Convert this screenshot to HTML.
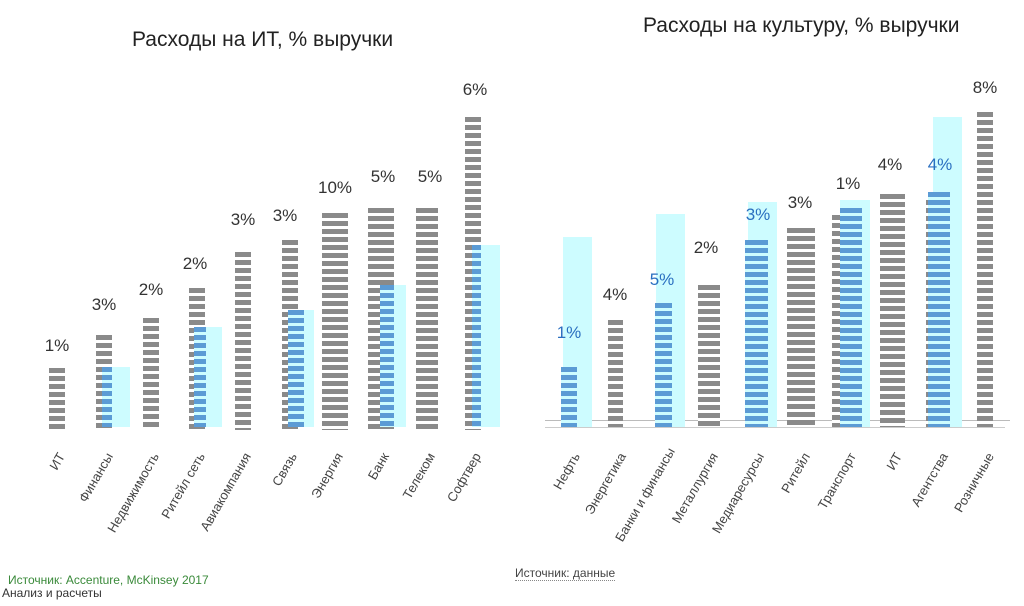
<!DOCTYPE html>
<html><head><meta charset="utf-8"><style>
body{margin:0;width:1024px;height:606px;background:#fff;position:relative;overflow:hidden;font-family:"Liberation Sans",sans-serif;}
div{position:absolute;}
.g{background:repeating-linear-gradient(to bottom,#8a8a8a 0 5px,#fff 5px 8px);}
.b{background:repeating-linear-gradient(to bottom,#5b9bd5 0 5px,#cdfcff 5px 8px);}
.c{background:#cdfcff;}
.l{font-size:17px;color:#333;width:60px;text-align:center;}
.lb{color:#2a6fc0;}
.x{font-size:13px;color:#444;transform:rotate(-60deg);transform-origin:right top;white-space:nowrap;text-align:right;width:100px;}
.t{font-size:21px;color:#222;white-space:nowrap;}
</style></head><body>
<div class="t" style="left:132px;top:28px">Расходы на ИТ, % выручки</div>
<div class="t" style="left:643px;top:14px">Расходы на культуру, % выручки</div>

<!-- left chart -->
<div class="g" style="left:49px;top:368px;width:16px;height:62px"></div>
<div class="g" style="left:96px;top:335px;width:16px;height:95px"></div>
<div class="c" style="left:104px;top:367px;width:26px;height:60px"></div>
<div class="b" style="left:102px;top:367px;width:10px;height:60px"></div>
<div class="g" style="left:143px;top:318px;width:16px;height:112px"></div>
<div class="g" style="left:189px;top:288px;width:16px;height:142px"></div>
<div class="c" style="left:196px;top:327px;width:26px;height:100px"></div>
<div class="b" style="left:194px;top:327px;width:12px;height:100px"></div>
<div class="g" style="left:235px;top:252px;width:16px;height:178px"></div>
<div class="g" style="left:282px;top:240px;width:16px;height:190px"></div>
<div class="c" style="left:288px;top:310px;width:26px;height:117px"></div>
<div class="b" style="left:288px;top:310px;width:16px;height:117px"></div>
<div class="g" style="left:322px;top:213px;width:26px;height:217px"></div>
<div class="g" style="left:368px;top:208px;width:26px;height:222px"></div>
<div class="c" style="left:380px;top:285px;width:26px;height:142px"></div>
<div class="b" style="left:380px;top:285px;width:14px;height:142px"></div>
<div class="g" style="left:416px;top:208px;width:22px;height:222px"></div>
<div class="g" style="left:465px;top:117px;width:16px;height:313px"></div>
<div class="c" style="left:472px;top:245px;width:28px;height:182px"></div>
<div class="b" style="left:472px;top:245px;width:9px;height:182px"></div>

<div class="l" style="left:27px;top:336px">1%</div>
<div class="l" style="left:74px;top:295px">3%</div>
<div class="l" style="left:121px;top:280px">2%</div>
<div class="l" style="left:165px;top:254px">2%</div>
<div class="l" style="left:213px;top:210px">3%</div>
<div class="l" style="left:255px;top:206px">3%</div>
<div class="l" style="left:305px;top:178px">10%</div>
<div class="l" style="left:353px;top:167px">5%</div>
<div class="l" style="left:400px;top:167px">5%</div>
<div class="l" style="left:445px;top:80px">6%</div>

<div class="x" style="left:-45px;top:450px">ИТ</div>
<div class="x" style="left:3px;top:450px">Финансы</div>
<div class="x" style="left:49px;top:450px">Недвижимость</div>
<div class="x" style="left:95px;top:450px">Ритейл сеть</div>
<div class="x" style="left:141px;top:450px">Авиакомпания</div>
<div class="x" style="left:187px;top:450px">Связь</div>
<div class="x" style="left:233px;top:450px">Энергия</div>
<div class="x" style="left:279px;top:450px">Банк</div>
<div class="x" style="left:325px;top:450px">Телеком</div>
<div class="x" style="left:371px;top:450px">Софтвер</div>

<!-- right chart -->
<div style="left:545px;top:420px;width:465px;height:1px;background:#bbb"></div>
<div style="left:545px;top:427px;width:460px;height:1px;background:#ccc"></div>
<div class="c" style="left:563px;top:237px;width:29px;height:190px"></div>
<div class="b" style="left:561px;top:367px;width:16px;height:60px"></div>
<div class="g" style="left:608px;top:320px;width:15px;height:107px"></div>
<div class="c" style="left:656px;top:214px;width:29px;height:213px"></div>
<div class="b" style="left:655px;top:303px;width:17px;height:124px"></div>
<div class="g" style="left:698px;top:285px;width:22px;height:142px"></div>
<div class="c" style="left:748px;top:202px;width:29px;height:225px"></div>
<div class="b" style="left:745px;top:240px;width:23px;height:187px"></div>
<div class="g" style="left:787px;top:228px;width:28px;height:199px"></div>
<div class="g" style="left:832px;top:215px;width:10px;height:212px"></div>
<div class="c" style="left:840px;top:200px;width:30px;height:227px"></div>
<div class="b" style="left:840px;top:208px;width:22px;height:219px"></div>
<div class="g" style="left:880px;top:194px;width:25px;height:233px"></div>
<div class="c" style="left:933px;top:117px;width:29px;height:310px"></div>
<div class="g" style="left:926px;top:200px;width:8px;height:227px"></div>
<div class="b" style="left:928px;top:192px;width:22px;height:235px"></div>
<div class="g" style="left:977px;top:112px;width:16px;height:315px"></div>

<div class="l lb" style="left:539px;top:323px">1%</div>
<div class="l" style="left:585px;top:285px">4%</div>
<div class="l lb" style="left:632px;top:270px">5%</div>
<div class="l" style="left:676px;top:238px">2%</div>
<div class="l lb" style="left:728px;top:205px">3%</div>
<div class="l" style="left:770px;top:193px">3%</div>
<div class="l" style="left:818px;top:174px">1%</div>
<div class="l" style="left:860px;top:155px">4%</div>
<div class="l lb" style="left:910px;top:155px">4%</div>
<div class="l" style="left:955px;top:78px">8%</div>

<div class="x" style="left:470px;top:450px">Нефть</div>
<div class="x" style="left:516px;top:450px">Энергетика</div>
<div class="x" style="left:562px;top:450px">Банки и финансы</div>
<div class="x" style="left:608px;top:450px">Металлургия</div>
<div class="x" style="left:654px;top:450px">Медиаресурсы</div>
<div class="x" style="left:700px;top:450px">Ритейл</div>
<div class="x" style="left:746px;top:450px">Транспорт</div>
<div class="x" style="left:792px;top:450px">ИТ</div>
<div class="x" style="left:838px;top:450px">Агентства</div>
<div class="x" style="left:884px;top:450px">Розничные</div>

<div style="left:8px;top:573px;font-size:12px;color:#3a8a3a;white-space:nowrap">Источник: Accenture, McKinsey 2017</div>
<div style="left:2px;top:586px;font-size:12px;color:#333;white-space:nowrap">Анализ и расчеты</div>
<div style="left:515px;top:566px;font-size:12px;color:#444;border-bottom:1px dotted #888;white-space:nowrap">Источник: данные</div>
</body></html>
